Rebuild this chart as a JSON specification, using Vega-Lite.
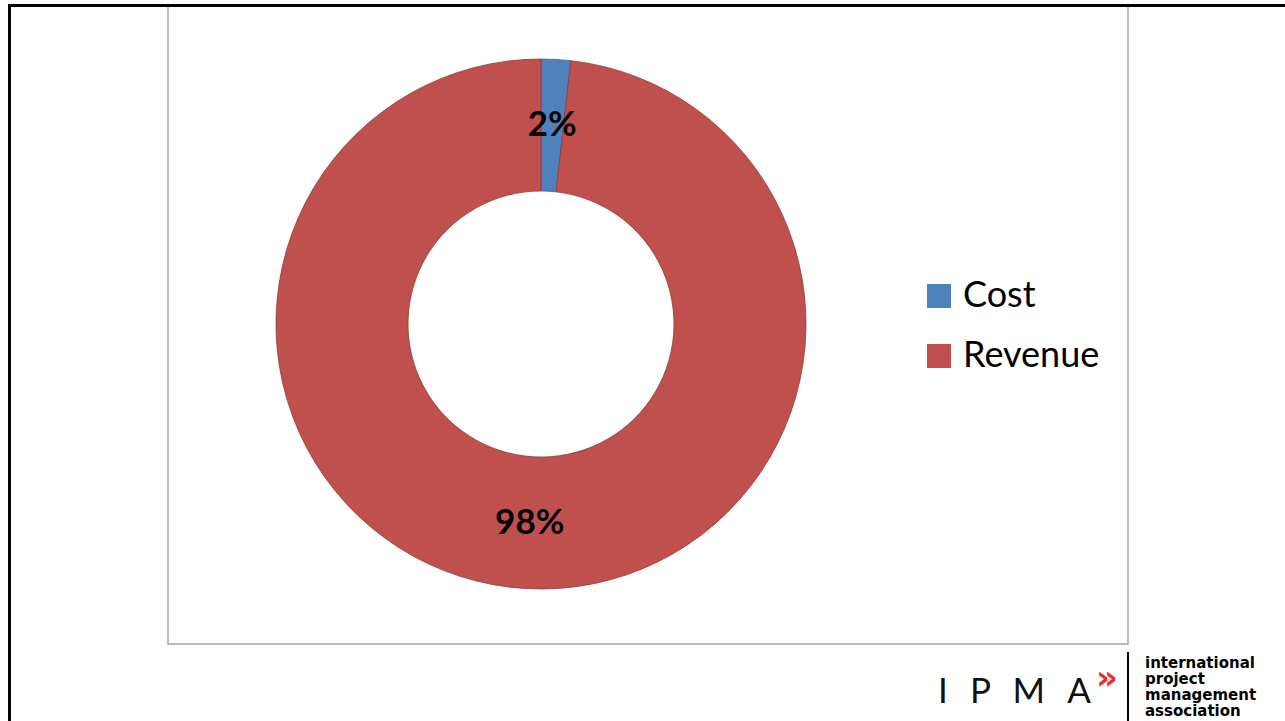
{
  "$schema": "https://vega.github.io/schema/vega-lite/v6.json",
  "width": 1285,
  "height": 721,
  "autosize": {"type": "fit", "contains": "padding"},
  "padding": 0,
  "background": "white",
  "config": {"view": {"stroke": null}},
  "data": {"values": [
    {"category": "Cost", "value": 1.8, "label": "2%"},
    {"category": "Revenue", "value": 98.2, "label": "98%"}
  ]},
  "layer": [
    {
      "data": {"values": [{}]},
      "mark": {"type": "rect", "x": 168, "y": 5, "x2": 1128, "y2": 644, "fill": "white", "stroke": "#a6a6a6", "strokeWidth": 1.5},
      "encoding": {}
    },
    {
      "mark": {"type": "arc", "x": 541, "y": 324, "radius": 265, "radius2": 133, "strokeWidth": 0.8},
      "encoding": {
        "theta": {"field": "value", "type": "quantitative", "stack": true},
        "color": {
          "field": "category", "type": "nominal",
          "scale": {"domain": ["Cost", "Revenue"], "range": ["#4F81BD", "#C0504D"]},
          "legend": {
            "orient": "none", "legendX": 921, "legendY": 278, "title": null,
            "symbolType": "square", "symbolSize": 576, "symbolStrokeWidth": 0,
            "labelFont": "Lato", "labelFontSize": 36, "labelColor": "black",
            "labelOffset": 6, "rowPadding": 24, "labelLimit": 400
          }
        },
        "stroke": {
          "field": "category", "type": "nominal",
          "scale": {"domain": ["Cost", "Revenue"], "range": ["#3a6491", "#8f3a38"]},
          "legend": null
        }
      }
    },
    {
      "mark": {"type": "text", "x": 541, "y": 324, "radius": 199, "font": "Lato", "fontWeight": "bold", "fontSize": 35, "color": "black", "align": "center", "baseline": "middle"},
      "encoding": {
        "theta": {"field": "value", "type": "quantitative", "stack": true},
        "detail": {"field": "category", "type": "nominal"},
        "text": {"field": "label", "type": "nominal"}
      }
    },
    {
      "data": {"values": [{}]},
      "mark": {"type": "rect", "x": 8, "x2": 1285, "y": 4, "y2": 7, "fill": "black"},
      "encoding": {}
    },
    {
      "data": {"values": [{}]},
      "mark": {"type": "rect", "x": 8, "x2": 11, "y": 4, "y2": 721, "fill": "black"},
      "encoding": {}
    },
    {
      "data": {"values": [{}]},
      "mark": {"type": "rect", "x": 1127, "x2": 1129, "y": 652, "y2": 721, "fill": "black"},
      "encoding": {}
    },
    {
      "data": {"values": [{}]},
      "mark": {"type": "text", "x": 938, "y": 703, "text": "I\u00a0\u00a0\u2009P\u00a0\u00a0\u2009M\u00a0\u00a0\u2009A", "font": "Lato", "fontWeight": 400, "fontSize": 35, "color": "#111111", "align": "left", "baseline": "alphabetic"},
      "encoding": {}
    },
    {
      "data": {"values": [{}]},
      "mark": {"type": "text", "x": 1096, "y": 689, "text": "»", "font": "DejaVu Sans", "fontWeight": "bold", "fontSize": 34, "color": "#e8322e", "align": "left", "baseline": "alphabetic"},
      "encoding": {}
    },
    {
      "data": {"values": [{}]},
      "mark": {"type": "text", "x": 1145, "y": 668, "text": ["international", "project", "management", "association"], "lineHeight": 16, "font": "DejaVu Sans", "fontWeight": "bold", "fontSize": 15, "color": "black", "align": "left", "baseline": "alphabetic"},
      "encoding": {}
    }
  ]
}
